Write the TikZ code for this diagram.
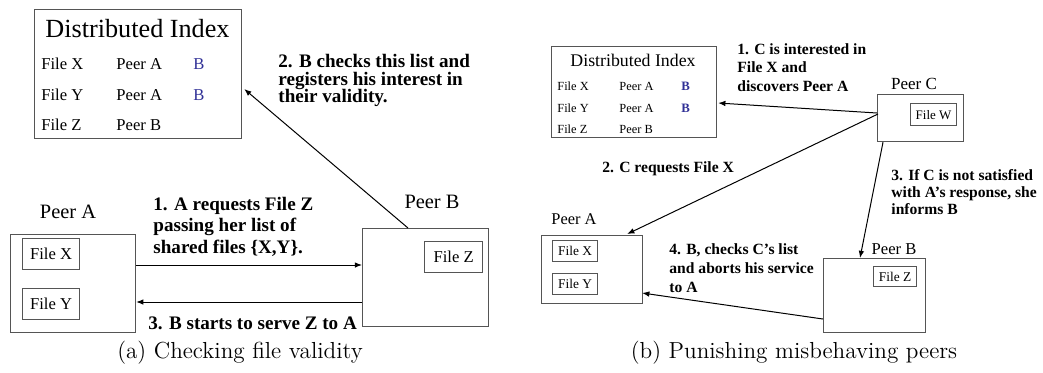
\documentclass[tikz,border=0pt]{standalone}
\usepackage{fontspec}
\newfontfamily\tms{Liberation Serif}
\usetikzlibrary{arrows.meta,calc}
\definecolor{boxgray}{RGB}{85,85,85}
\definecolor{idxblue}{RGB}{48,48,150}
\tikzset{
  box/.style={draw=boxgray, line width=0.6pt, inner sep=0pt, anchor=north west},
  lbl/.style={inner sep=0pt, anchor=west, text height=0.68em, text depth=0pt},
  ctr/.style={inner sep=0pt, anchor=center, text height=0.68em, text depth=0pt},
  note/.style={inner sep=0pt, anchor=west, align=left},
  arr/.style={line width=0.5pt, draw=black, -{Latex[length=3.6pt,width=2.8pt]}},
}
\begin{document}
\begin{tikzpicture}[x=0.5pt, y=-0.5pt]
\useasboundingbox (0,0) rectangle (1043,372);

% ---------------- (a) Checking file validity ----------------
\node[box, minimum width=103.5pt, minimum height=64.5pt] (DIa) at (34,9) {};
\node[ctr, font=\tms\fontsize{13.1}{15}\selectfont] (DIaT) at (137.5,31) {Distributed Index};
\begin{scope}[every node/.append style={font=\tms\fontsize{8.3}{10}\selectfont}]
  \node[lbl] (ax1) at (41,63) {File X};
  \node[lbl] (ax2) at (116,63) {Peer A};
  \node[lbl, text=idxblue] (ax3) at (193,63) {B};
  \node[lbl] (ay1) at (41,94) {File Y};
  \node[lbl] (ay2) at (116,94) {Peer A};
  \node[lbl, text=idxblue] (ay3) at (193,94) {B};
  \node[lbl] (az1) at (41,124) {File Z};
  \node[lbl] (az2) at (116,124) {Peer B};
\end{scope}

\node[ctr, font=\tms\fontsize{10.2}{12}\selectfont] (PAaT) at (68,212) {Peer A};
\node[box, minimum width=62.5pt, minimum height=49pt] (PAa) at (10,234) {};
\node[box, minimum width=28.5pt, minimum height=15.5pt, font=\tms\fontsize{8.3}{10}\selectfont] (FXa) at (22,238) {File X};
\node[box, minimum width=28.5pt, minimum height=15.5pt, font=\tms\fontsize{8.3}{10}\selectfont] (FYa) at (22,288) {File Y};

\node[ctr, font=\tms\fontsize{10.2}{12}\selectfont] (PBaT) at (432,202) {Peer B};
\node[box, minimum width=63pt, minimum height=49pt] (PBa) at (362,228) {};
\node[box, minimum width=29pt, minimum height=15.5pt, font=\tms\fontsize{8.3}{10}\selectfont] (FZa) at (424,241) {File Z};

\node[note, font=\tms\bfseries\fontsize{9.55}{10.75}\selectfont] (L1a) at (153,226.5)
  {1. A requests File Z\\passing her list of\\shared files \{X,Y\}.};
\node[note, font=\tms\bfseries\fontsize{9.55}{8.75}\selectfont] (L2a) at (278,80.5)
  {2. B checks this list and\\registers his interest in\\their validity.};
\node[lbl, font=\tms\bfseries\fontsize{9.55}{11}\selectfont] (L3a) at (148,323)
  {3. B starts to serve Z to A};

\draw[arr] ($(PAa.north east)+(0,31)$) -- ($(PBa.north west)+(0,37)$);
\draw[arr] ($(PBa.north west)+(0,74)$) -- ($(PAa.north east)+(0,68)$);
\draw[arr] ($(PBa.north west)+(46,0)$) -- ($(DIa.north east)+(2,80)$);

\node[ctr, font=\fontsize{11.6}{13}\selectfont] (CapA) at (240,352) {(a) Checking file validity};

% ---------------- (b) Punishing misbehaving peers ----------------
\node[box, minimum width=82.5pt, minimum height=45.5pt] (DIb) at (551,46) {};
\node[ctr, font=\tms\fontsize{8.9}{11}\selectfont] (DIbT) at (633,60) {Distributed Index};
\begin{scope}[every node/.append style={font=\tms\fontsize{6.2}{8}\selectfont}]
  \node[lbl] (bx1) at (557,84) {File X};
  \node[lbl] (bx2) at (619,84) {Peer A};
  \node[lbl, text=idxblue, font=\tms\bfseries\fontsize{6.4}{8}\selectfont] (bx3) at (681,84) {B};
  \node[lbl] (by1) at (557,106) {File Y};
  \node[lbl] (by2) at (619,106) {Peer A};
  \node[lbl, text=idxblue, font=\tms\bfseries\fontsize{6.4}{8}\selectfont] (by3) at (681,106) {B};
  \node[lbl] (bz1) at (557,127) {File Z};
  \node[lbl] (bz2) at (619,127) {Peer B};
\end{scope}

\node[ctr, font=\tms\fontsize{8.5}{10}\selectfont] (PCT) at (914,83) {Peer C};
\node[box, minimum width=43pt, minimum height=23.5pt] (PC) at (877,94) {};
\node[box, minimum width=23pt, minimum height=11pt, font=\tms\fontsize{6.5}{8}\selectfont] (FW) at (910,103) {File W};

\node[ctr, font=\tms\fontsize{8.2}{10}\selectfont] (PAbT) at (574,218) {Peer A};
\node[box, minimum width=50.5pt, minimum height=34pt] (PAb) at (541,235) {};
\node[box, minimum width=22.5pt, minimum height=10.25pt, font=\tms\fontsize{6.7}{8}\selectfont] (FXb) at (552,240) {File X};
\node[box, minimum width=22.5pt, minimum height=10.25pt, font=\tms\fontsize{6.7}{8}\selectfont] (FYb) at (552,273) {File Y};

\node[ctr, font=\tms\fontsize{8.3}{10}\selectfont] (PBbT) at (894,248) {Peer B};
\node[box, minimum width=51pt, minimum height=37pt] (PBb) at (823,258) {};
\node[box, minimum width=21.5pt, minimum height=10pt, font=\tms\fontsize{6.7}{8}\selectfont] (FZb) at (873,266) {File Z};

\node[note, font=\tms\bfseries\fontsize{7.8}{9.25}\selectfont] (L1b) at (737,67.5)
  {1. C is interested in\\File X and\\discovers Peer A};
\node[lbl, font=\tms\bfseries\fontsize{7.8}{9}\selectfont] (L2b) at (602,166)
  {2. C requests File X};
\node[note, font=\tms\bfseries\fontsize{7.8}{8.5}\selectfont] (L3b) at (891,192)
  {3. If C is not satisfied\\with A’s response, she\\informs B};
\node[note, font=\tms\bfseries\fontsize{7.8}{9.5}\selectfont] (L4b) at (669,268)
  {4. B, checks C’s list\\and aborts his service\\to A};

\draw[arr] ($(PC.north west)+(0,19)$) -- ($(DIb.north east)+(1,57)$);
\draw[arr] ($(PC.north west)+(1,20)$) -- ($(PAb.north east)+(-16,-1)$);
\draw[arr] ($(PC.south west)+(6,0)$) -- ($(PBb.north west)+(37,0)$);
\draw[arr] ($(PBb.north west)+(0,61)$) -- ($(PAb.north east)+(-1,58)$);

\node[ctr, font=\fontsize{11.6}{13}\selectfont] (CapB) at (794,352) {(b) Punishing misbehaving peers};
\end{tikzpicture}
\end{document}
